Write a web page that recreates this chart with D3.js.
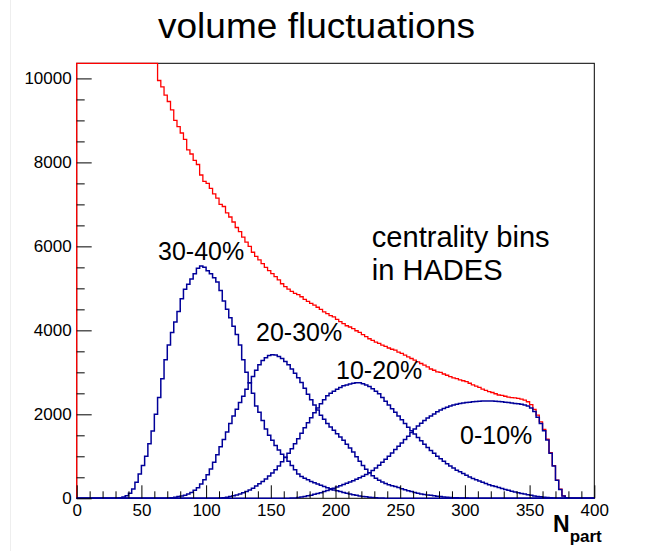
<!DOCTYPE html>
<html>
<head>
<meta charset="utf-8">
<script src="https://cdn.jsdelivr.net/npm/d3@7"></script>
<style>
  body { margin: 0; background: #fff; }
  svg text { font-family: "Liberation Sans", Arial, Helvetica, sans-serif; }
</style>
</head>
<body>
<svg id="chart" width="659" height="551"></svg>
<script>
// histogram bins are 2.5 units of N_part wide, each series listed from its first bin
var binWidth = 2.5;
var xTicks = [0, 50, 100, 150, 200, 250, 300, 350, 400];
var yTicks = [0, 2000, 4000, 6000, 8000, 10000];

// all events (red), one row per 25 units of N_part
var allStart = 0;
var allValues = [
  80000, 70000, 60000, 52000, 46000, 41000, 37000, 33500, 30500, 28000,
  25700, 23600, 21700, 20000, 18500, 17100, 15900, 14800, 13800, 12900,
  12100, 11400, 10800, 10500, 10400, 9950, 9800, 9600, 9450, 9250,
  9000, 8850, 8700, 8550, 8300, 8200, 8050, 7950, 7700, 7550,
  7500, 7380, 7250, 7150, 7000, 6950, 6800, 6700, 6580, 6450,
  6350, 6220, 6100, 6000, 5860, 5760, 5680, 5590, 5500, 5420,
  5350, 5280, 5200, 5110, 5040, 4980, 4930, 4880, 4850, 4800,
  4740, 4690, 4640, 4600, 4550, 4500, 4440, 4400, 4350, 4320,
  4260, 4210, 4160, 4110, 4080, 4040, 3990, 3950, 3900, 3850,
  3800, 3760, 3720, 3690, 3650, 3620, 3580, 3550, 3530, 3480,
  3450, 3410, 3370, 3330, 3290, 3250, 3210, 3170, 3130, 3080,
  3050, 3010, 3000, 2960, 2930, 2900, 2870, 2850, 2820, 2800,
  2780, 2740, 2700, 2670, 2640, 2600, 2570, 2540, 2520, 2490,
  2460, 2450, 2430, 2410, 2400, 2390, 2380, 2360, 2340, 2300,
  2230, 2120, 1980, 1820, 1640, 1410, 1085, 780, 435, 215,
  58, 13, 3];

// centrality classes (blue)
var c3040Start = 30;
var c3040 = [
  5, 15, 30, 60, 120, 220, 380, 580,
  780, 1000, 1300, 1600, 2000, 2400, 2850, 3300, 3650, 3950,
  4200, 4450, 4750, 4980, 5100, 5220, 5350, 5480, 5530, 5500,
  5420, 5350, 5250, 5150, 4950, 4700, 4500, 4300, 4100, 3900,
  3650, 3300, 3000, 2750, 2500, 2200, 2050, 1850, 1650, 1500,
  1380, 1260, 1150, 1050, 980, 880, 780, 680, 580, 520,
  480, 440, 400, 370, 340, 310, 280, 250, 225, 200,
  180, 160, 140, 120, 100, 85, 70, 55, 45, 35,
  25, 18, 12, 8, 5];
var c2030Start = 70;
var c2030 = [
  5, 15, 25, 40, 55, 75, 100, 140, 190, 250, 340, 440,
  560, 700, 860, 1040, 1230, 1400, 1580, 1780, 1960, 2120,
  2280, 2430, 2600, 2750, 2900, 3050, 3180, 3280, 3350, 3400,
  3420, 3410, 3380, 3330, 3260, 3180, 3080, 2980, 2870, 2760,
  2620, 2480, 2350, 2220, 2100, 1980, 1880, 1780, 1700, 1620,
  1540, 1460, 1380, 1290, 1200, 1100, 990, 880, 780, 690,
  610, 540, 480, 430, 390, 350, 320, 300, 280, 255,
  230, 205, 180, 160, 140, 120, 105, 90, 80, 70,
  60, 50, 40, 32, 25, 20, 15, 12, 10, 8,
  5];
var c1020Start = 110;
var c1020 = [
  5, 15, 25, 40, 60, 80,
  105, 130, 160, 195, 240, 290, 345, 400, 460, 530,
  600, 680, 770, 870, 970, 1070, 1180, 1300, 1420, 1550,
  1680, 1800, 1920, 2040, 2150, 2250, 2350, 2440, 2500, 2550,
  2600, 2640, 2680, 2700, 2720, 2740, 2750, 2750, 2730, 2700,
  2660, 2610, 2550, 2490, 2400, 2310, 2220, 2130, 2050, 1960,
  1870, 1780, 1690, 1610, 1530, 1450, 1370, 1290, 1210, 1140,
  1070, 1000, 940, 880, 820, 770, 720, 670, 630, 590,
  550, 510, 470, 440, 410, 380, 350, 325, 300, 280,
  260, 235, 210, 190, 170, 150, 130, 115, 100, 85,
  70, 55, 45, 35, 25, 18, 12, 8, 4];
var c010Start = 165;
var c010 = [
  5, 10, 20, 30, 45, 60, 75, 95, 115, 135, 160, 185, 210, 240,
  270, 300, 330, 360, 390, 420, 455, 490, 525, 565,
  610, 660, 720, 790, 860, 930, 1000, 1080, 1160, 1240,
  1320, 1400, 1480, 1570, 1650, 1720, 1790, 1850, 1910, 1960,
  2010, 2060, 2100, 2140, 2170, 2200, 2220, 2240, 2260, 2270,
  2280, 2290, 2300, 2305, 2310, 2315, 2320, 2320, 2315, 2310,
  2305, 2300, 2290, 2280, 2270, 2260, 2250, 2240, 2225, 2200,
  2150, 2070, 1930, 1780, 1610, 1390, 1070, 770, 430, 210,
  55, 12, 3];

var labels = [
  { text: "30-40%", x: 158, y: 260 },
  { text: "20-30%", x: 256, y: 341 },
  { text: "10-20%", x: 336, y: 379 },
  { text: "0-10%", x: 460, y: 444 }
];

var svg = d3.select("#chart");
var plotL = 76.7, plotR = 594.3, plotT = 63.3, plotB = 498.3;

var x = d3.scaleLinear().domain([0, 400]).range([plotL, plotR]);
var y = d3.scaleLinear().domain([0, 10360]).range([plotB, plotT]).clamp(true);

// faint canvas edge
svg.append("line").attr("x1", 10.5).attr("x2", 10.5).attr("y1", 0).attr("y2", 551)
  .attr("stroke", "#eeeeee").attr("stroke-width", 1);

// title
svg.append("text").attr("x", 316.5).attr("y", 37.7).attr("text-anchor", "middle")
  .attr("font-size", 35).attr("textLength", 317).attr("lengthAdjust", "spacingAndGlyphs")
  .text("volume fluctuations");

// turn a series into full 0..400 bins
function fullBins(start, values) {
  var n = Math.round(400 / binWidth);
  var out = [];
  var offset = Math.round(start / binWidth);
  for (var i = 0; i < n; i++) {
    var k = i - offset;
    out.push(k >= 0 && k < values.length ? values[k] : 0);
  }
  return out;
}

var line = d3.line()
  .x(function(d) { return x(d[0]); })
  .y(function(d) { return y(d[1]); })
  .curve(d3.curveStepAfter);

function drawHist(start, values, color, width) {
  var bins = fullBins(start, values);
  var pts = [[0, 0]];
  for (var i = 0; i < bins.length; i++) {
    pts.push([i * binWidth, bins[i]]);
  }
  pts.push([400, bins[bins.length - 1]]);
  pts.push([400, 0]);
  svg.append("path").attr("d", line(pts))
    .attr("fill", "none").attr("stroke", color).attr("stroke-width", width)
    .attr("stroke-linejoin", "miter");
}

// frame
svg.append("rect").attr("x", plotL).attr("y", plotT)
  .attr("width", plotR - plotL).attr("height", plotB - plotT)
  .attr("fill", "none").attr("stroke", "#000").attr("stroke-width", 1);

drawHist(allStart, allValues, "#ff0000", 1.3);
drawHist(c3040Start, c3040, "#000099", 1.5);
drawHist(c2030Start, c2030, "#000099", 1.5);
drawHist(c1020Start, c1020, "#000099", 1.5);
drawHist(c010Start, c010, "#000099", 1.5);

// y axis: ticks pointing into the frame
var yMinor = d3.range(0, 10360, 500).filter(function(v) { return v % 2000 !== 0; });
svg.append("g").attr("transform", "translate(" + plotL + ",0)")
  .call(d3.axisLeft(y).tickValues(yMinor).tickSizeInner(-8).tickSizeOuter(0).tickFormat(""))
  .call(function(g) { g.select(".domain").remove(); });
svg.append("g").attr("transform", "translate(" + plotL + ",0)")
  .call(d3.axisLeft(y).tickValues(yTicks).tickSizeInner(-15).tickSizeOuter(0).tickPadding(5).tickFormat(d3.format("d")))
  .call(function(g) {
    g.select(".domain").remove();
    g.attr("font-family", null).attr("font-size", 17);
    g.selectAll("text").attr("fill", "#000");
  });

// x axis: ticks pointing up
var xMinor = d3.range(0, 401, 10).filter(function(v) { return v % 50 !== 0; });
svg.append("g").attr("transform", "translate(0," + plotB + ")")
  .call(d3.axisBottom(x).tickValues(xMinor).tickSizeInner(-7).tickSizeOuter(0).tickFormat(""))
  .call(function(g) { g.select(".domain").remove(); });
svg.append("g").attr("transform", "translate(0," + plotB + ")")
  .call(d3.axisBottom(x).tickValues(xTicks).tickSizeInner(-13).tickSizeOuter(0).tickPadding(6).tickFormat(d3.format("d")))
  .call(function(g) {
    g.select(".domain").remove();
    g.attr("font-family", null).attr("font-size", 17);
    g.selectAll("text").attr("fill", "#000");
  });

// axis title N_part
var xt = svg.append("text").attr("x", 553).attr("y", 531.7).attr("font-weight", "bold");
xt.append("tspan").attr("font-size", 23).text("N");
xt.append("tspan").attr("font-size", 17).attr("dy", 10).text("part");

// class labels
svg.selectAll("text.cls").data(labels).enter().append("text")
  .attr("class", "cls")
  .attr("x", function(d) { return d.x; })
  .attr("y", function(d) { return d.y; })
  .attr("font-size", 25)
  .text(function(d) { return d.text; });

// note
svg.append("text").attr("x", 371.7).attr("y", 246.7).attr("font-size", 30)
  .attr("textLength", 178).attr("lengthAdjust", "spacingAndGlyphs").text("centrality bins");
svg.append("text").attr("x", 371.7).attr("y", 280).attr("font-size", 30)
  .attr("textLength", 131).attr("lengthAdjust", "spacingAndGlyphs").text("in HADES");
</script>
</body>
</html>
